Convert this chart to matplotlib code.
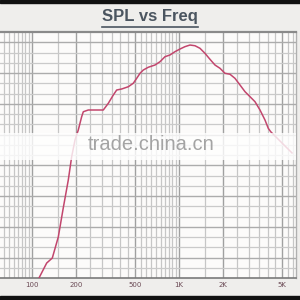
import matplotlib
matplotlib.use("Agg")
import matplotlib.pyplot as plt
import numpy as np
from matplotlib.patches import Rectangle
from matplotlib.lines import Line2D

# Data (frequency in Hz, level in grid units)
freq = [111.6, 125.9, 137.5, 151, 163.2, 176.6, 186.2, 196.1, 206.5, 217.8, 223.4,
        241.5, 305.5, 330.4, 357.3, 376.9, 407.5, 452, 488.8, 515.6, 543, 571.5,
        618.2, 686.7, 742.6, 803, 868.5, 939, 1016, 1098, 1188, 1285, 1389, 1502,
        1624, 1757, 1900, 2055, 2222, 2403, 2600, 2811, 3040, 3288, 3556, 3846,
        4050, 4206, 5870]
spl = [0.0, 1.46, 1.95, 4.0, 6.83, 9.56, 11.83, 13.46, 14.44, 15.74, 16.22,
       16.39, 16.39, 17.04, 17.85, 18.34, 18.44, 18.66, 19.0, 19.48, 19.97, 20.29,
       20.56, 20.78, 21.1, 21.59, 21.76, 22.08, 22.34, 22.57, 22.73, 22.66, 22.41, 21.92,
       21.34, 20.78, 20.46, 19.97, 19.88, 19.48, 18.83, 18.18, 17.69, 17.2, 16.39, 15.41,
       14.6, 14.27, 12.2]

tick_vals = [100, 200, 500, 1000, 2000, 5000]
tick_labels = ["100", "200", "500", "1K", "2K", "5K"]

minor_x = list(range(65, 100, 5)) + list(range(150, 1000, 50)) + list(range(1500, 6500, 500))

bg = "#efeeec"
fig = plt.figure(figsize=(3, 3), dpi=100, facecolor=bg)

# black bars top / bottom
fig.add_artist(Rectangle((0, 297/300), 1, 3/300, transform=fig.transFigure, color="#111111", zorder=10))
fig.add_artist(Rectangle((0, 0), 1, 4/300, transform=fig.transFigure, color="#111111", zorder=10))

ax = fig.add_axes([0, 22/300, 296/300, 246/300])
ax.set_facecolor("#fcfbfa")
ax.set_xscale("log")
ax.set_xlim(60.6, 6250)
ax.set_ylim(0, 24)

for f in minor_x:
    if f in tick_vals:
        continue
    ax.axvline(f, color="#c6c6c6", lw=0.9, zorder=1)
for f in tick_vals:
    ax.axvline(f, color="#a0a0a0", lw=1.0, zorder=1)
for k in range(1, 24):
    major = (k % 3 == 2)
    ax.axhline(k, color="#acacac" if major else "#cacaca", lw=1.0 if major else 0.9, zorder=1)

ax.plot(freq, spl, color="#c2466d", lw=1.1, zorder=3, solid_joinstyle="round")

ax.set_xticks(tick_vals)
ax.set_xticklabels(tick_labels)
ax.xaxis.set_minor_locator(matplotlib.ticker.NullLocator())
ax.tick_params(axis="x", length=0, pad=3, labelsize=5, labelcolor="#6b4a55")
ax.set_yticks([])
ax.spines["left"].set_visible(False)
ax.spines["top"].set_color("#8a8a8a")
ax.spines["top"].set_linewidth(1.6)
ax.spines["bottom"].set_color("#7a7a7a")
ax.spines["bottom"].set_linewidth(1.2)
ax.spines["right"].set_color("#b0b0b0")
ax.spines["right"].set_linewidth(1.0)

# watermark band and text
ax.add_patch(Rectangle((0, (278-160)/246), 1, 27/246, transform=ax.transAxes,
                       color="white", alpha=0.8, lw=0, zorder=4))
ax.text(151/296, (278-145)/246, "trade.china.cn", transform=ax.transAxes,
        ha="center", va="center", fontsize=14.5, color="#a4a4a4", family="Liberation Sans", zorder=5)

# title
t = fig.text(0.5, 1 - 17/300, "SPL vs Freq", ha="center", va="center", fontsize=12,
             fontweight="bold", color="#4b5560", family="Liberation Sans")
fig.canvas.draw()
bb = t.get_window_extent(renderer=fig.canvas.get_renderer())
yline = (300 - 26.5) / 300
fig.add_artist(Line2D([bb.x0 / 300, bb.x1 / 300], [yline, yline], transform=fig.transFigure,
                      color="#4b5560", lw=1.2))

fig.savefig("out.png", dpi=100, facecolor=bg)
